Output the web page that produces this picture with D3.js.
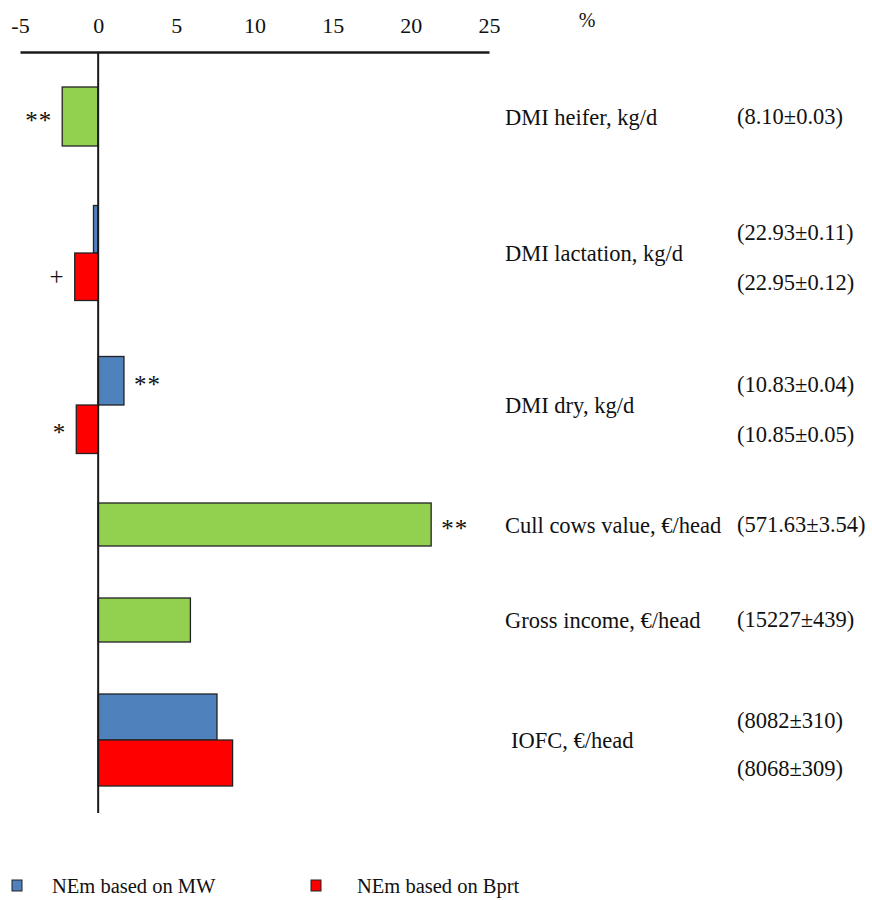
<!DOCTYPE html>
<html>
<head>
<meta charset="utf-8">
<script src="https://cdn.jsdelivr.net/npm/d3@7"></script>
<style>
  html, body { margin: 0; padding: 0; background: #fff; }
  svg { display: block; }
  text { font-family: "Liberation Serif", "Times New Roman", serif; fill: #111; }
</style>
</head>
<body>
<svg id="chart" width="872" height="900"></svg>
<script>
// Relative change (%) per trait; single green bars pool both NEm methods.
const categories = [
  "DMI heifer, kg/d",
  "DMI lactation, kg/d",
  "DMI dry, kg/d",
  "Cull cows value, €/head",
  "Gross income, €/head",
  "IOFC, €/head"
];
const pooledValues = [-2.3, null, null, 21.3, 5.9, null];
const mwValues     = [null, -0.3, 1.65, null, null, 7.6];
const bprtValues   = [null, -1.5, -1.4, null, null, 8.6];

// Reference means (±SE) printed beside each bar
const pooledMeans = ["(8.10±0.03)", "", "", "(571.63±3.54)", "(15227±439)", ""];
const mwMeans     = ["", "(22.93±0.11)", "(10.83±0.04)", "", "", "(8082±310)"];
const bprtMeans   = ["", "(22.95±0.12)", "(10.85±0.05)", "", "", "(8068±309)"];

// Significance marks
const pooledSig = ["**", "", "", "**", "", ""];
const mwSig     = ["", "", "**", "", "", ""];
const bprtSig   = ["", "+", "*", "", "", ""];

const xTicks = [-5, 0, 5, 10, 15, 20, 25];
const seriesNames = ["NEm based on MW", "NEm based on Bprt"];

// ---- layout ----
const rowHeights = [129, 144, 160, 79, 112, 128];   // vertical room per trait row
const groupThickness = [59, 95, 97, 43, 44, 92];   // total bar thickness per row
const colors = { pooled: "#92D050", mw: "#4F81BD", bprt: "#FF0000" };
const axisY = 52, plotBottom = 813;
const fs = 22.5;

const svg = d3.select("#chart");

const x = d3.scaleLinear().domain([-5, 25]).range([20, 489]);

// Row centres from cumulative row heights
const rowTops = [axisY];
rowHeights.forEach((h, i) => rowTops.push(rowTops[i] + h));
const rowCenter = d3.scaleOrdinal()
  .domain(categories)
  .range(categories.map((c, i) => rowTops[i] + rowHeights[i] / 2));

// Flatten to bar records
const bars = [];
categories.forEach((cat, i) => {
  const present = [];
  if (pooledValues[i] != null) present.push({ key: "pooled", v: pooledValues[i], mean: pooledMeans[i], sig: pooledSig[i] });
  if (mwValues[i] != null) present.push({ key: "mw", v: mwValues[i], mean: mwMeans[i], sig: mwSig[i] });
  if (bprtValues[i] != null) present.push({ key: "bprt", v: bprtValues[i], mean: bprtMeans[i], sig: bprtSig[i] });
  const c = rowCenter(cat);
  const band = d3.scaleBand()
    .domain(present.map(p => p.key))
    .range([c - groupThickness[i] / 2, c + groupThickness[i] / 2])
    .padding(0);
  present.forEach(p => bars.push({ cat, i, ...p, y: band(p.key), h: band.bandwidth() }));
});

// Bars
svg.append("g").selectAll("rect")
  .data(bars)
  .join("rect")
  .attr("x", d => x(Math.min(0, d.v)))
  .attr("width", d => Math.abs(x(d.v) - x(0)))
  .attr("y", d => d.y)
  .attr("height", d => d.h)
  .attr("fill", d => colors[d.key])
  .attr("stroke", "#222")
  .attr("stroke-width", 1.3);

// Zero line
svg.append("line")
  .attr("x1", x(0)).attr("x2", x(0))
  .attr("y1", axisY).attr("y2", plotBottom)
  .attr("stroke", "#1a1a1a").attr("stroke-width", 2);

// Top axis (plain hyphen for negatives)
const axis = d3.axisTop(x).tickValues(xTicks).tickSize(0).tickPadding(19)
  .tickFormat(d => String(d));
const gx = svg.append("g").attr("transform", `translate(0,${axisY})`).call(axis);
gx.select(".domain").attr("stroke", "#1a1a1a").attr("stroke-width", 2.5);
gx.selectAll("text")
  .attr("font-family", "Liberation Serif, Times New Roman, serif")
  .attr("font-size", 22).attr("fill", "#111");

svg.append("text").attr("x", 587).attr("y", 27)
  .attr("text-anchor", "middle").attr("font-size", 20).text("%");

// Significance marks next to bar ends
svg.append("g").selectAll("text")
  .data(bars.filter(d => d.sig))
  .join("text")
  .attr("x", d => d.v < 0 ? x(d.v) - 10 : x(d.v) + 10)
  .attr("y", d => d.y + d.h / 2 + (d.sig === "+" ? 8 : 12))
  .attr("text-anchor", d => d.v < 0 ? "end" : "start")
  .attr("font-size", 25)
  .attr("letter-spacing", 1)
  .text(d => d.sig);

// Trait labels
svg.append("g").selectAll("text")
  .data(categories)
  .join("text")
  .attr("x", d => d.startsWith("IOFC") ? 511 : 505)
  .attr("y", d => rowCenter(d) + 8)
  .attr("font-size", fs)
  .text(d => d);

// Means beside each bar
svg.append("g").selectAll("text")
  .data(bars.filter(d => d.mean))
  .join("text")
  .attr("x", 737)
  .attr("y", d => d.y + d.h / 2 + (d.key === "pooled" ? 7 : d.key === "bprt" ? 13 : 11))
  .attr("font-size", fs)
  .text(d => d.mean);

// Legend
const legend = svg.append("g").attr("transform", "translate(0,886)");
const legendItems = [
  { name: seriesNames[0], color: colors.mw, x: 12, tx: 40 },
  { name: seriesNames[1], color: colors.bprt, x: 311, tx: 46 }
];
const li = legend.selectAll("g").data(legendItems).join("g")
  .attr("transform", d => `translate(${d.x},0)`);
li.append("rect").attr("x", 0).attr("y", -6).attr("width", 10).attr("height", 11)
  .attr("fill", d => d.color).attr("stroke", "#222").attr("stroke-width", 1);
li.append("text").attr("x", d => d.tx).attr("y", 7).attr("font-size", 20.5).text(d => d.name);
</script>
</body>
</html>
